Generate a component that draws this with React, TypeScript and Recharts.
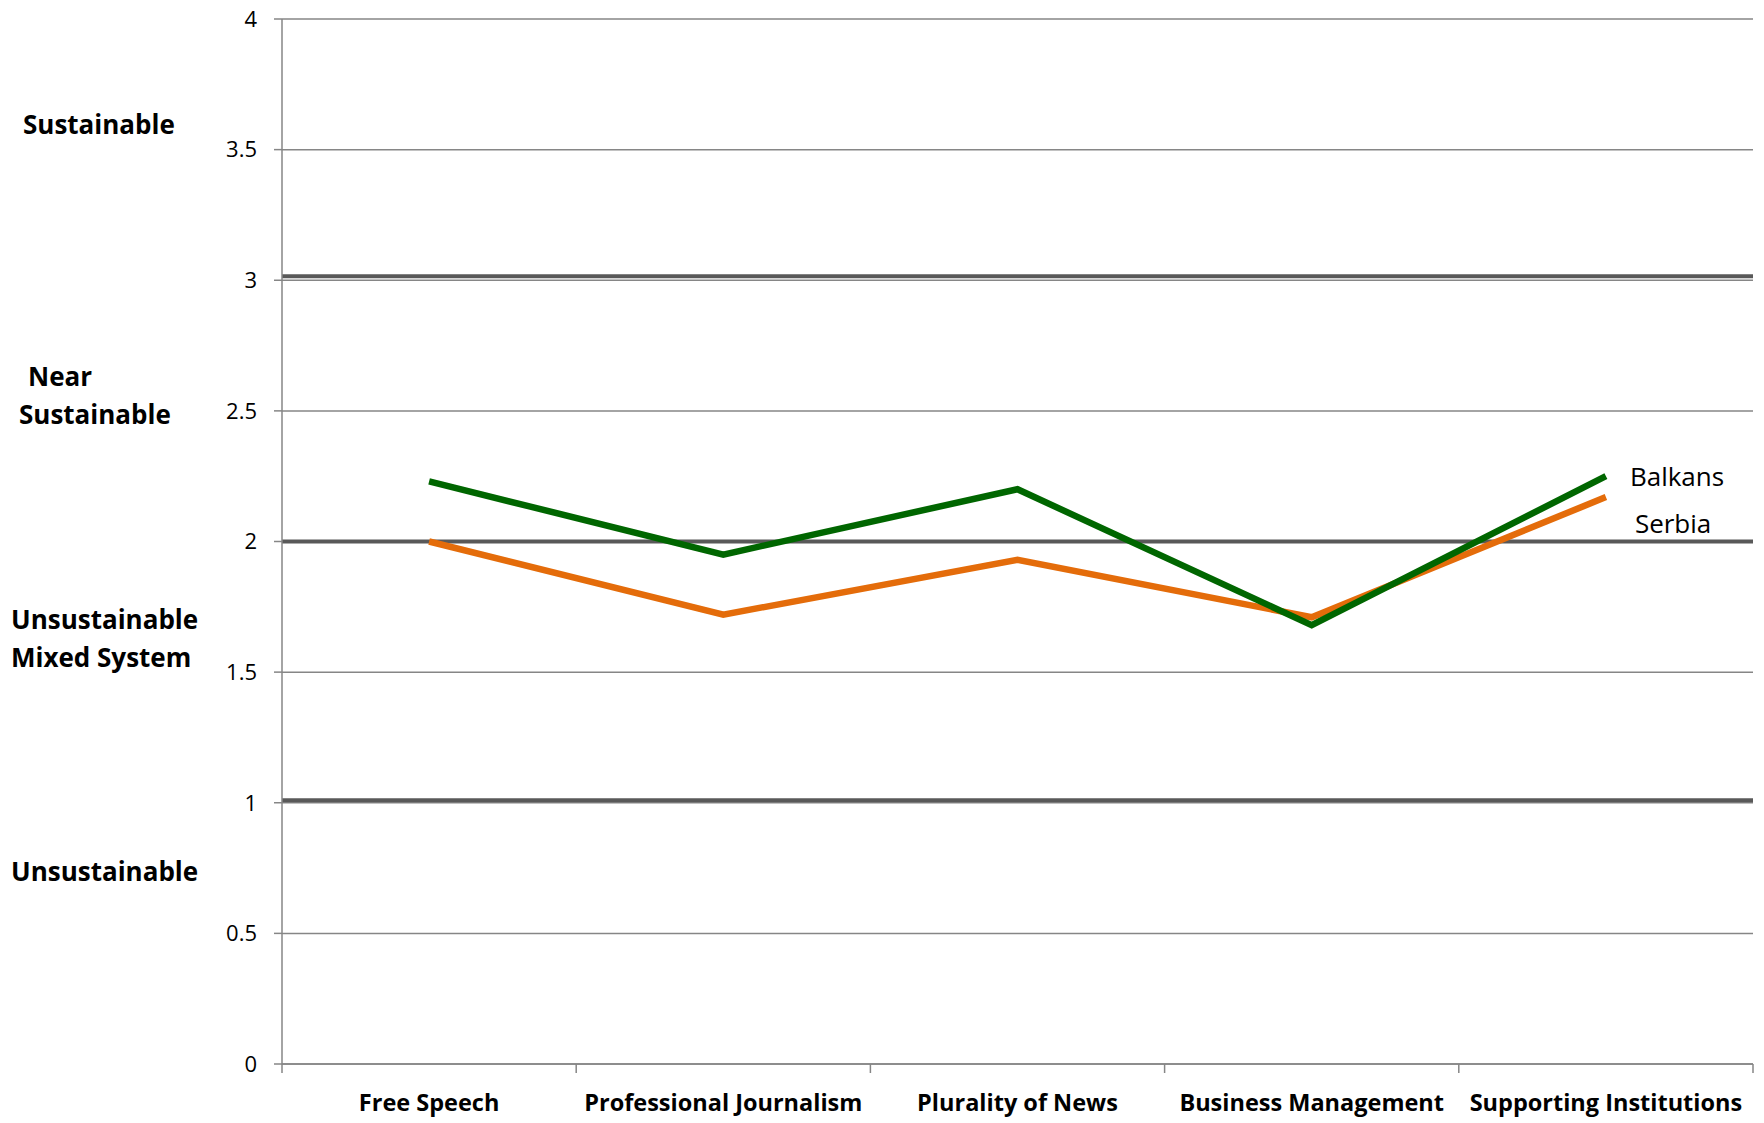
import React from 'react';
import { LineChart, Line, XAxis, YAxis, CartesianGrid, ReferenceLine } from 'recharts';

const categories = ['Free Speech', 'Professional Journalism', 'Plurality of News', 'Business Management', 'Supporting Institutions'];
const balkans = [2.23, 1.95, 2.2, 1.68, 2.25];
const serbia = [2.0, 1.72, 1.93, 1.71, 2.17];
const yTicks = [0, 0.5, 1, 1.5, 2, 2.5, 3, 3.5, 4];
const thresholds = [3.015, 2, 1.01];
const bandNames = [['Sustainable'], ['Near', 'Sustainable'], ['Unsustainable', 'Mixed System'], ['Unsustainable']];
const bandLevels = [3.6, 2.56, 1.63, 0.74];

const data = categories.map((name, i) => ({ name, balkans: balkans[i], serbia: serbia[i] }));

// left indent of each band label line (px)
const bandIndent = [[23], [28, 19], [11, 11], [11]];
const FONT = '"Open Sans", sans-serif';

const BandLabel = (props: any) => {
  const { viewBox, lines, indents } = props;
  const y = viewBox?.y ?? 0;
  const gap = 38;
  const start = y - ((lines.length - 1) * gap) / 2;
  return (
    <g>
      {lines.map((t: string, i: number) => (
        <text key={t + i} x={indents[i]} y={start + i * gap} dominantBaseline="central"
          fontFamily={FONT} fontWeight="bold" fontSize={26} fill="#000">
          {t}
        </text>
      ))}
    </g>
  );
};

const CategoryTick = (props: any) => {
  const { x, y, payload, index } = props;
  const half = payload?.offset || 147;
  const top = 1064;
  return (
    <g>
      <line x1={x - half} x2={x - half} y1={top} y2={top + 9} stroke="#868686" strokeWidth={1.5} />
      {index === categories.length - 1 && (
        <line x1={x + half} x2={x + half} y1={top} y2={top + 9} stroke="#868686" strokeWidth={1.5} />
      )}
      <text x={x} y={1102} textAnchor="middle" dominantBaseline="central"
        fontFamily={FONT} fontWeight="bold" fontSize={23.5} fill="#000">
        {payload.value}
      </text>
    </g>
  );
};

const endLabel = (name: string, dx: number, dy: number) => (props: any) => {
  const { x, y, index } = props;
  if (index !== categories.length - 1) return <g />;
  return (
    <text x={x + dx} y={y + dy} dominantBaseline="central" fontFamily={FONT} fontSize={26} fill="#000">
      {name}
    </text>
  );
};

export default function App() {
  return (
    <div style={{ position: 'absolute', left: 0, top: 0, background: '#fff' }}>
      <LineChart width={1764} height={1123} data={data} margin={{ top: 19, right: 11, bottom: 0, left: 0 }}>
        <CartesianGrid vertical={false} stroke="#868686" strokeWidth={1.5} />
        <XAxis dataKey="name" scale="band" height={59} axisLine={{ stroke: '#868686', strokeWidth: 1.5 }}
          tickLine={false} tickSize={0} tick={<CategoryTick />} interval={0} />
        <YAxis width={282} domain={[0, 4]} ticks={yTicks} interval={0}
          axisLine={{ stroke: '#868686', strokeWidth: 1.5 }} tickLine={{ stroke: '#868686', strokeWidth: 1.5 }}
          tickSize={8} tickMargin={17}
          tick={{ fontFamily: FONT, fontSize: 22, fill: '#000' }} />
        {thresholds.map((t) => (
          <ReferenceLine key={t} y={t} stroke="#595959" strokeWidth={4} />
        ))}
        {bandLevels.map((lv, i) => (
          <ReferenceLine key={'band' + i} y={lv} stroke="none" ifOverflow="visible"
            label={<BandLabel lines={bandNames[i]} indents={bandIndent[i]} />} />
        ))}
        <Line dataKey="serbia" stroke="#E46C0A" strokeWidth={6.5} dot={false} isAnimationActive={false}
          label={endLabel('Serbia', 29, 26)} />
        <Line dataKey="balkans" stroke="#006600" strokeWidth={6.5} dot={false} isAnimationActive={false}
          label={endLabel('Balkans', 24, 0)} />
      </LineChart>
    </div>
  );
}
